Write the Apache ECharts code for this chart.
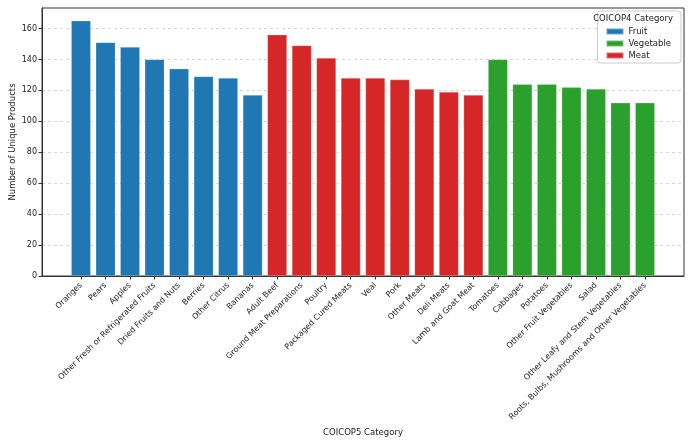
<!DOCTYPE html>
<html><head><meta charset="utf-8">
<script src="https://cdn.jsdelivr.net/npm/echarts@6/dist/echarts.min.js"></script>
<style>html,body{margin:0;padding:0;background:#fff}#c{width:692px;height:444px}</style>
</head><body><div id="c"></div>
<script>
const categories = ["Oranges","Pears","Apples","Other Fresh or Refrigerated Fruits","Dried Fruits and Nuts","Berries","Other Citrus","Bananas","Adult Beef","Ground Meat Preparations","Poultry","Packaged Cured Meats","Veal","Pork","Other Meats","Deli Meats","Lamb and Goat Meat","Tomatoes","Cabbages","Potatoes","Other Fruit Vegetables","Salad","Other Leafy and Stem Vegetables","Roots, Bulbs, Mushrooms and Other Vegetables"];
const groups = ["Fruit","Fruit","Fruit","Fruit","Fruit","Fruit","Fruit","Fruit","Meat","Meat","Meat","Meat","Meat","Meat","Meat","Meat","Meat","Vegetable","Vegetable","Vegetable","Vegetable","Vegetable","Vegetable","Vegetable"];
const values = [165,151,148,140,134,129,128,117,156,149,141,128,128,127,121,119,117,140,124,124,122,121,112,112];
const legendOrder = ["Fruit","Vegetable","Meat"];
const colors = {Fruit:"#1f77b4", Vegetable:"#2ca02c", Meat:"#d62728"};
const yTicks = [0,20,40,60,80,100,120,140,160];

const font = "DejaVu Sans";
const idx = categories.map((_, i) => i);
const n = categories.length;
const xMin = -0.4 - 0.05 * (n - 1 + 0.8);
const xMax = n - 1 + 0.4 + 0.05 * (n - 1 + 0.8);
const yMax = Math.max(...values) * 1.05;

const series = legendOrder.map(g => ({
  name: g, type: 'bar', barWidth: '80%', barGap: '-100%',
  itemStyle: {color: colors[g], borderColor: 'rgba(255,255,255,0.35)', borderWidth: 0.6},
  data: idx.filter(i => groups[i] === g).map(i => [i, values[i]])
}));

const chart = echarts.init(document.getElementById('c'), null, {renderer: 'canvas'});
chart.setOption({
  animation: false,
  textStyle: {fontFamily: font},
  grid: {left: 42, right: 8, top: 8, bottom: 168, show: true, borderColor: '#333', borderWidth: 1, backgroundColor: 'transparent', containLabel: false, outerBoundsMode: 'none'},
  title: {text: 'COICOP4 Category', right: 14, top: 9, textStyle: {fontFamily: font, fontSize: 8.5, fontWeight: 'normal', color: '#222'}},
  legend: {
    data: legendOrder, orient: 'vertical', right: 11, top: 11,
    padding: [16, 10, 3, 8], itemGap: 3, itemWidth: 17, itemHeight: 6,
    borderColor: '#ccc', borderWidth: 1, borderRadius: 3, backgroundColor: 'rgba(255,255,255,0.8)',
    icon: 'rect', textStyle: {fontFamily: font, fontSize: 8.5, color: '#222'}
  },
  xAxis: {
    type: 'value', min: xMin, max: xMax,
    name: 'COICOP5 Category', nameLocation: 'middle', nameGap: 152, nameMoveOverlap: false,
    nameTextStyle: {fontFamily: font, fontSize: 8.5, color: '#222'},
    axisLine: {show: true, onZero: false, lineStyle: {color: '#333'}},
    axisTick: {show: true, customValues: idx, length: 3.5, lineStyle: {color: '#333'}},
    axisLabel: {customValues: idx, rotate: 45, margin: 8, fontFamily: font, fontSize: 8, color: '#222', formatter: v => categories[Math.round(v)]},
    splitLine: {show: false}
  },
  yAxis: {
    type: 'value', min: 0, max: yMax, interval: 20,
    name: 'Number of Unique Products', nameLocation: 'middle', nameGap: 25, nameMoveOverlap: false,
    nameTextStyle: {fontFamily: font, fontSize: 8.5, color: '#222'},
    axisLine: {show: true, onZero: false, lineStyle: {color: '#333'}},
    axisTick: {show: true, customValues: yTicks, length: 3.5, lineStyle: {color: '#333'}},
    axisLabel: {customValues: yTicks, margin: 5, fontFamily: font, fontSize: 8, color: '#222'},
    splitLine: {show: true, lineStyle: {color: 'rgba(176,176,176,0.7)', type: [3, 3], width: 0.7}}
  },
  series: series
});
</script></body></html>
